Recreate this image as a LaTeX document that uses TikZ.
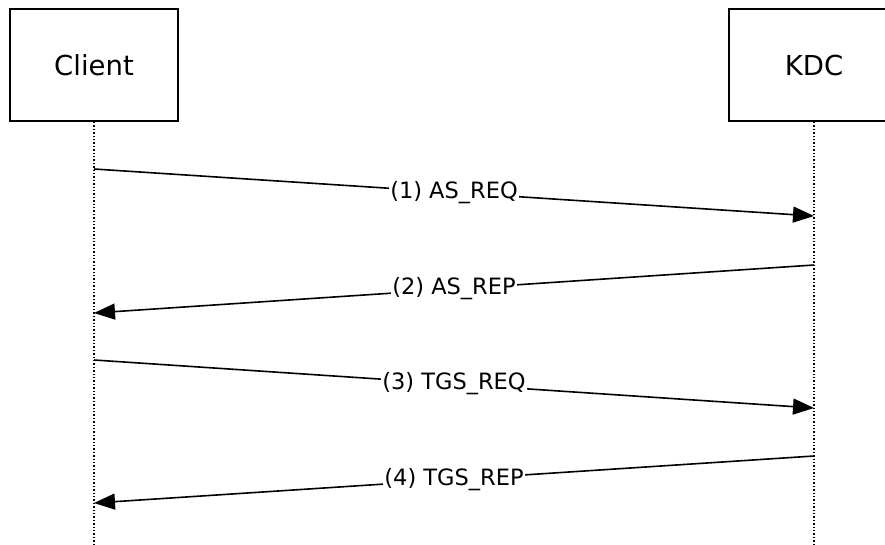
\documentclass[tikz,border=0pt]{standalone}
\usepackage{fontspec}
\setmainfont{DejaVu Sans}
\usetikzlibrary{arrows.meta}
\tikzset{
  actor/.style={draw, line width=2pt, minimum width=168pt, minimum height=112pt,
    inner sep=0pt, font=\fontsize{27.5}{32}\selectfont},
  lifeline/.style={line width=1.4pt, dotted},
  msg/.style={line width=1.6pt, -{Triangle[length=21pt,width=16pt]}},
  msglabel/.style={fill=white, inner sep=1pt, font=\fontsize{22.5}{26}\selectfont}
}
\begin{document}
\begin{tikzpicture}[x=1pt,y=-1pt]
      \useasboundingbox (0,0) rectangle (885,544);
      \clip (0,0) rectangle (885,544);
      % participants
      \node[actor] (client) at (94,65) {Client};
      \node[actor, minimum width=170pt] (kdc) at (814,65) {KDC};
      \coordinate (clientend) at (94,544);
      \coordinate (kdcend) at (814,544);
      \draw[lifeline] (client.south) -- (clientend);
      \draw[lifeline] (kdc.south) -- (kdcend);
      % message ends on the lifelines
      \coordinate (c1) at (94,169);  \coordinate (k1) at (814,216);
      \coordinate (k2) at (814,265); \coordinate (c2) at (94,313);
      \coordinate (c3) at (94,360);  \coordinate (k3) at (814,408);
      \coordinate (k4) at (814,456); \coordinate (c4) at (94,503);
      % messages
      \draw[msg] (c1) -- node[msglabel]{(1) AS\_REQ} (k1);
      \draw[msg] (k2) -- node[msglabel]{(2) AS\_REP} (c2);
      \draw[msg] (c3) -- node[msglabel]{(3) TGS\_REQ} (k3);
      \draw[msg] (k4) -- node[msglabel]{(4) TGS\_REP} (c4);
    \end{tikzpicture}
\end{document}
